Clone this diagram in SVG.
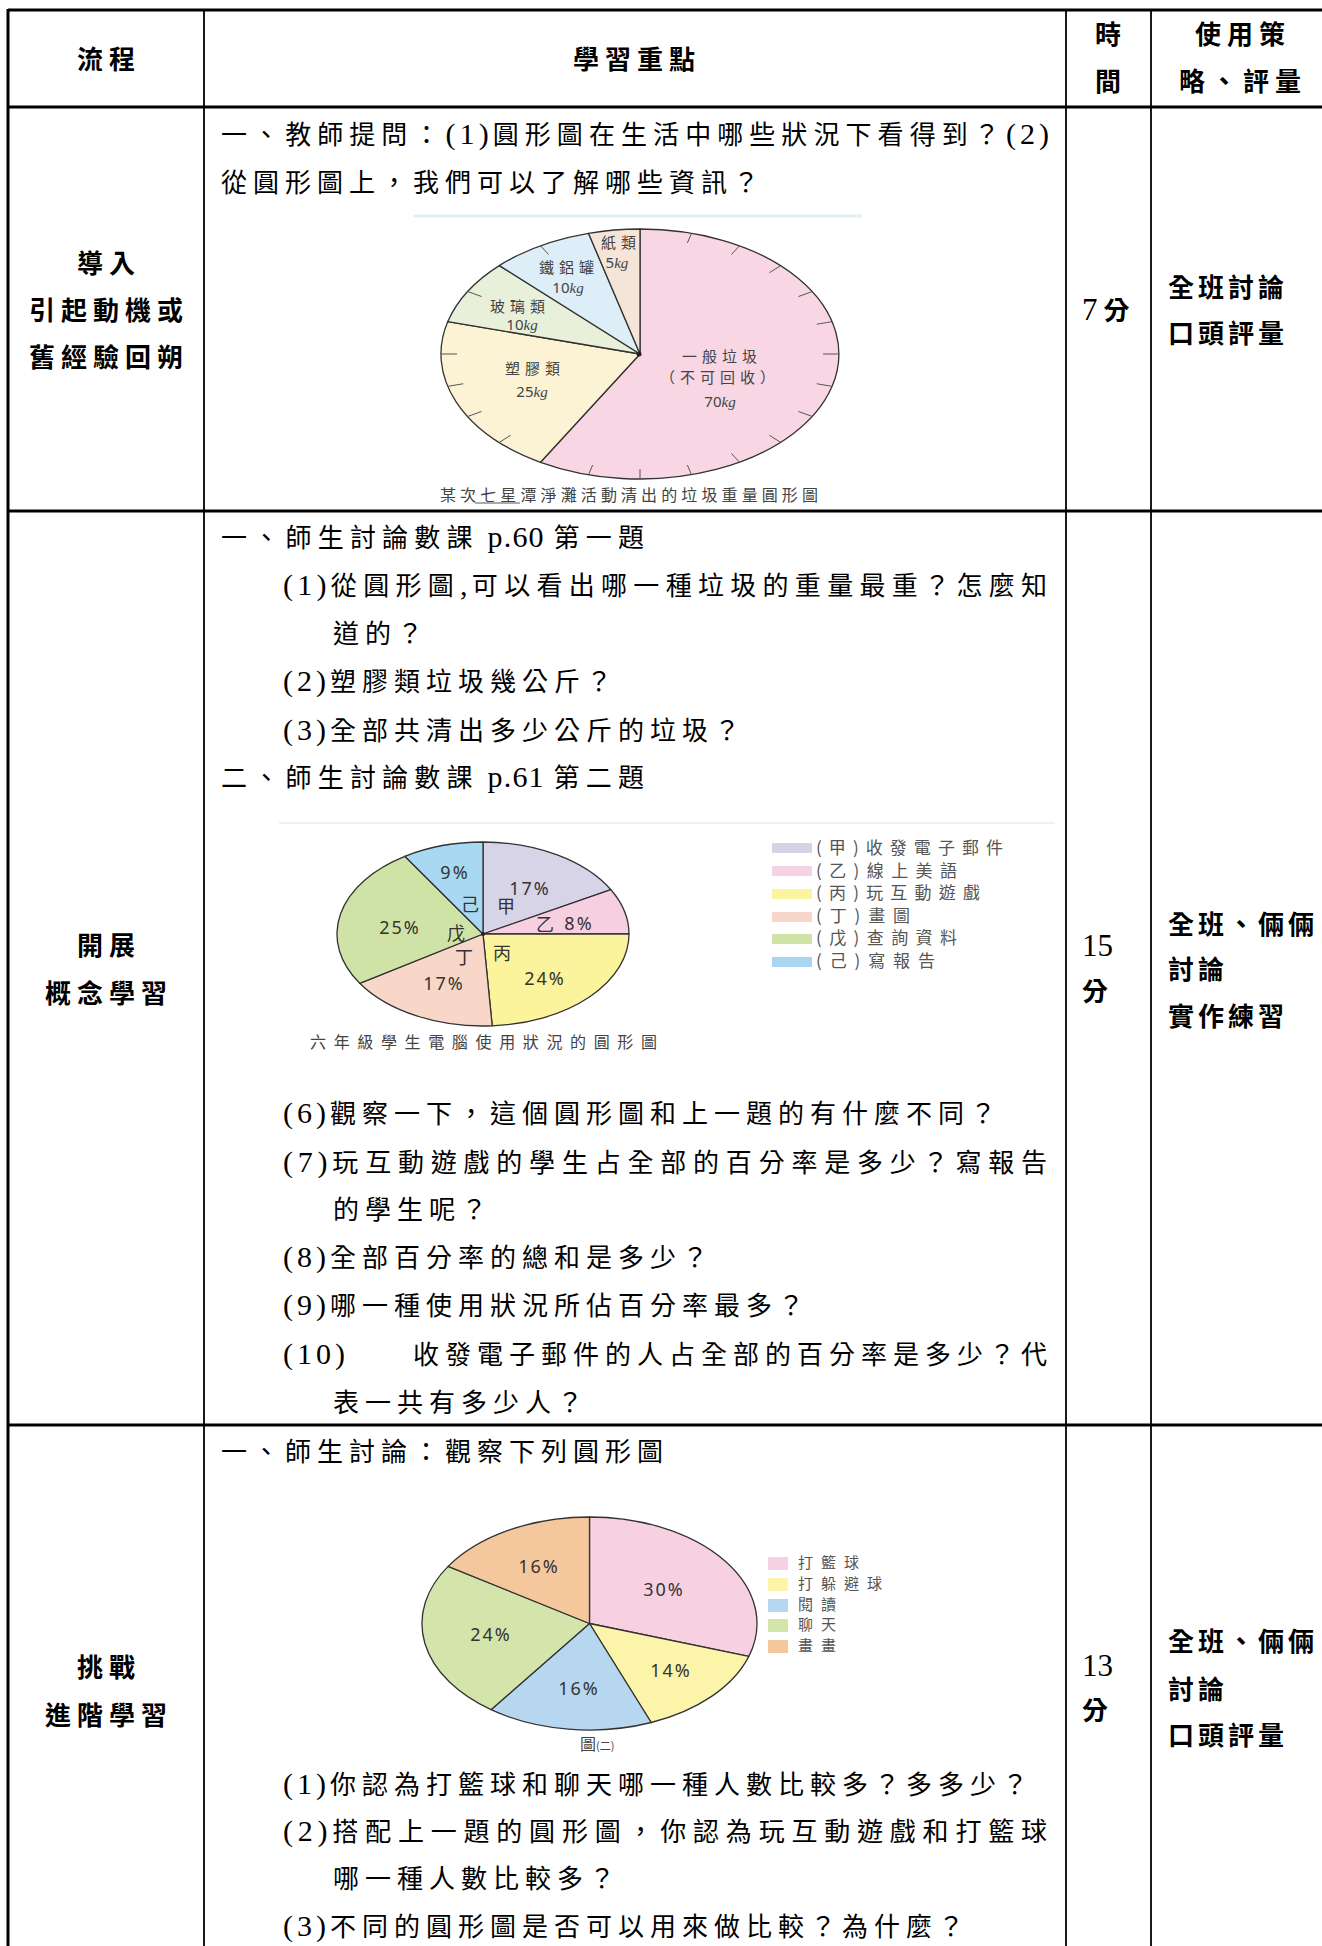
<svg xmlns="http://www.w3.org/2000/svg" width="1322" height="1946" viewBox="0 0 1322 1946">
<style>
.t{font-family:"Liberation Serif","Noto Sans CJK TC",serif;font-size:26px;letter-spacing:6px;fill:#000}
.l{font-size:30px;letter-spacing:4px}
.p{font-size:30px;letter-spacing:1px}
.d{font-size:31px;letter-spacing:0}
.b{font-weight:700}
.n{font-weight:400}
.c{text-anchor:middle}
.r{letter-spacing:4px}
.lbl{font-family:"Noto Sans CJK TC",sans-serif;font-size:15px;letter-spacing:5px;fill:#444}
.num{font-family:"Noto Sans","Noto Sans CJK TC",sans-serif;font-size:15px;fill:#444}
.kg{font-family:"Liberation Serif",serif;font-style:italic}
.pct{font-family:"Noto Sans",sans-serif;font-size:18px;letter-spacing:2px;fill:#333}
.ch{font-family:"Noto Sans CJK TC",sans-serif;font-size:18px;fill:#333}
.leg{font-family:"Noto Sans CJK TC",sans-serif;font-size:17px;fill:#555}
.leg3{font-family:"Noto Sans CJK TC",sans-serif;font-size:15px;letter-spacing:8px;fill:#555}
.cap{font-family:"Noto Sans CJK TC",sans-serif;font-size:16px;fill:#444}
.sl{stroke:#333;stroke-width:1.3;stroke-linejoin:round}
.tk{stroke:#555;stroke-width:1}
.thick{stroke:#000;stroke-width:3}
.thin{stroke:#000;stroke-width:1.8}
</style>
<rect width="1322" height="1946" fill="#fff"/>

<!-- table grid -->
<g id="grid">
<line class="thick" x1="8" y1="10" x2="1322" y2="10"/>
<line class="thick" x1="8" y1="107" x2="1322" y2="107"/>
<line class="thick" x1="8" y1="511" x2="1322" y2="511"/>
<line class="thick" x1="8" y1="1425" x2="1322" y2="1425"/>
<line class="thick" x1="8" y1="9" x2="8" y2="1946"/>
<line class="thin" x1="204" y1="10" x2="204" y2="1946"/>
<line class="thin" x1="1066" y1="10" x2="1066" y2="1946"/>
<line class="thin" x1="1151" y1="10" x2="1151" y2="1946"/>
</g>

<!-- header -->
<g id="header">
<text class="t b c" x="109" y="69">流程</text>
<text class="t b c" x="637" y="69">學習重點</text>
<text class="t b c" x="1111" y="44">時</text>
<text class="t b c" x="1111" y="91">間</text>
<text class="t b c" x="1243" y="44">使用策</text>
<text class="t b c" x="1243" y="91">略、評量</text>
</g>

<!-- row 1 -->
<g id="row1">
<text class="t b c" x="109" y="273">導入</text>
<text class="t b c" x="109" y="320">引起動機或</text>
<text class="t b c" x="109" y="367">舊經驗回朔</text>
<text class="t" x="221" y="144" textLength="832" lengthAdjust="spacing">一、教師提問：<tspan class="l">(1)</tspan>圓形圖在生活中哪些狀況下看得到？<tspan class="l">(2)</tspan></text>
<text class="t" x="221" y="192">從圓形圖上，我們可以了解哪些資訊？</text>
<text class="t b" x="1082" y="320"><tspan class="n d" style="letter-spacing:6px">7</tspan>分</text>
<text class="t b r" x="1168" y="297">全班討論</text>
<text class="t b r" x="1168" y="343">口頭評量</text>
</g>

<!-- pie 1 -->
<g id="pie1">
<line x1="413" y1="216" x2="862" y2="216" stroke="#e6eff6" stroke-width="3"/>
<path class="sl" fill="#f9d6e4" d="M640,354 L640,229 A199,125 0 1 1 540.5,462.3 Z"/>
<path class="sl" fill="#fcf2d4" d="M640,354 L540.5,462.3 A199,125 0 0 1 447.8,321.6 Z"/>
<path class="sl" fill="#e8f0da" d="M640,354 L447.8,321.6 A199,125 0 0 1 499.3,265.6 Z"/>
<path class="sl" fill="#ddeef8" d="M640,354 L499.3,265.6 A199,125 0 0 1 588.5,233.3 Z"/>
<path class="sl" fill="#f5e4d8" d="M640,354 L588.5,233.3 A199,125 0 0 1 640,229 Z"/>
<circle cx="639" cy="354" r="2.5" fill="#222"/>
<g transform="translate(640,354) scale(1,0.6281)">
<line class="tk" vector-effect="non-scaling-stroke" x1="0" y1="-199" x2="0" y2="-183" transform="rotate(15)"/>
<line class="tk" vector-effect="non-scaling-stroke" x1="0" y1="-199" x2="0" y2="-183" transform="rotate(30)"/>
<line class="tk" vector-effect="non-scaling-stroke" x1="0" y1="-199" x2="0" y2="-183" transform="rotate(45)"/>
<line class="tk" vector-effect="non-scaling-stroke" x1="0" y1="-199" x2="0" y2="-183" transform="rotate(60)"/>
<line class="tk" vector-effect="non-scaling-stroke" x1="0" y1="-199" x2="0" y2="-183" transform="rotate(75)"/>
<line class="tk" vector-effect="non-scaling-stroke" x1="0" y1="-199" x2="0" y2="-183" transform="rotate(90)"/>
<line class="tk" vector-effect="non-scaling-stroke" x1="0" y1="-199" x2="0" y2="-183" transform="rotate(105)"/>
<line class="tk" vector-effect="non-scaling-stroke" x1="0" y1="-199" x2="0" y2="-183" transform="rotate(120)"/>
<line class="tk" vector-effect="non-scaling-stroke" x1="0" y1="-199" x2="0" y2="-183" transform="rotate(135)"/>
<line class="tk" vector-effect="non-scaling-stroke" x1="0" y1="-199" x2="0" y2="-183" transform="rotate(150)"/>
<line class="tk" vector-effect="non-scaling-stroke" x1="0" y1="-199" x2="0" y2="-183" transform="rotate(165)"/>
<line class="tk" vector-effect="non-scaling-stroke" x1="0" y1="-199" x2="0" y2="-183" transform="rotate(180)"/>
<line class="tk" vector-effect="non-scaling-stroke" x1="0" y1="-199" x2="0" y2="-183" transform="rotate(195)"/>
<line class="tk" vector-effect="non-scaling-stroke" x1="0" y1="-199" x2="0" y2="-183" transform="rotate(225)"/>
<line class="tk" vector-effect="non-scaling-stroke" x1="0" y1="-199" x2="0" y2="-183" transform="rotate(240)"/>
<line class="tk" vector-effect="non-scaling-stroke" x1="0" y1="-199" x2="0" y2="-183" transform="rotate(255)"/>
<line class="tk" vector-effect="non-scaling-stroke" x1="0" y1="-199" x2="0" y2="-183" transform="rotate(270)"/>
<line class="tk" vector-effect="non-scaling-stroke" x1="0" y1="-199" x2="0" y2="-183" transform="rotate(300)"/>
<line class="tk" vector-effect="non-scaling-stroke" x1="0" y1="-199" x2="0" y2="-183" transform="rotate(330)"/>
</g>
<text class="lbl c" x="621" y="248">紙類</text>
<text class="num c" x="617" y="268">5<tspan class="kg">kg</tspan></text>
<text class="lbl c" x="569" y="273">鐵鋁罐</text>
<text class="num c" x="568" y="293">10<tspan class="kg">kg</tspan></text>
<text class="lbl c" x="520" y="312">玻璃類</text>
<text class="num c" x="522" y="330">10<tspan class="kg">kg</tspan></text>
<text class="lbl c" x="535" y="374">塑膠類</text>
<text class="num c" x="532" y="397">25<tspan class="kg">kg</tspan></text>
<text class="lbl c" x="722" y="362">一般垃圾</text>
<text class="lbl c" x="720" y="383">（不可回收）</text>
<text class="num c" x="720" y="407">70<tspan class="kg">kg</tspan></text>
<text class="cap" x="440" y="501" textLength="378" lengthAdjust="spacing">某次七星潭淨灘活動清出的垃圾重量圓形圖</text>
<line x1="475" y1="503" x2="520" y2="503" stroke="#555" stroke-width="1"/>
</g>

<!-- row 2 -->
<g id="row2">
<text class="t b c" x="109" y="955">開展</text>
<text class="t b c" x="109" y="1003">概念學習</text>
<text class="t" x="221" y="547" textLength="429" lengthAdjust="spacing">一、師生討論數課<tspan class="p"> p.60 </tspan>第一題</text>
<text class="t" x="283" y="595" textLength="770" lengthAdjust="spacing"><tspan class="l">(1)</tspan>從圓形圖<tspan class="l">,</tspan>可以看出哪一種垃圾的重量最重？怎麼知</text>
<text class="t" x="333" y="643">道的？</text>
<text class="t" x="283" y="691"><tspan class="l">(2)</tspan>塑膠類垃圾幾公斤？</text>
<text class="t" x="283" y="740"><tspan class="l">(3)</tspan>全部共清出多少公斤的垃圾？</text>
<text class="t" x="221" y="787" textLength="429" lengthAdjust="spacing">二、師生討論數課<tspan class="p"> p.61 </tspan>第二題</text>
<text class="t" x="283" y="1123"><tspan class="l">(6)</tspan>觀察一下，這個圓形圖和上一題的有什麼不同？</text>
<text class="t" x="283" y="1172" textLength="770" lengthAdjust="spacing"><tspan class="l">(7)</tspan>玩互動遊戲的學生占全部的百分率是多少？寫報告</text>
<text class="t" x="333" y="1219">的學生呢？</text>
<text class="t" x="283" y="1267"><tspan class="l">(8)</tspan>全部百分率的總和是多少？</text>
<text class="t" x="283" y="1315"><tspan class="l">(9)</tspan>哪一種使用狀況所佔百分率最多？</text>
<text class="t l" x="283" y="1364">(10)</text>
<text class="t" x="413" y="1364" textLength="640" lengthAdjust="spacing">收發電子郵件的人占全部的百分率是多少？代</text>
<text class="t" x="333" y="1412">表一共有多少人？</text>
<text class="t n d" x="1082" y="956">15</text>
<text class="t b" x="1082" y="1001">分</text>
<text class="t b r" x="1168" y="934">全班、倆倆</text>
<text class="t b r" x="1168" y="979">討論</text>
<text class="t b r" x="1168" y="1026">實作練習</text>
</g>

<!-- pie 2 -->
<g id="pie2">
<line x1="279" y1="823" x2="1055" y2="823" stroke="#eef1f3" stroke-width="2"/>
<path class="sl" fill="#d8d4e8" d="M483,934 L483,842 A146,92 0 0 1 610.9,889.7 Z"/>
<path class="sl" fill="#f6d0e1" d="M483,934 L610.9,889.7 A146,92 0 0 1 629,934 Z"/>
<path class="sl" fill="#fcf49c" d="M483,934 L629,934 A146,92 0 0 1 492.2,1025.8 Z"/>
<path class="sl" fill="#f8d7c8" d="M483,934 L492.2,1025.8 A146,92 0 0 1 359.7,983.3 Z"/>
<path class="sl" fill="#cfe3a6" d="M483,934 L359.7,983.3 A146,92 0 0 1 404.8,856.3 Z"/>
<path class="sl" fill="#a8d8f2" d="M483,934 L404.8,856.3 A146,92 0 0 1 483,842 Z"/>
<circle cx="483" cy="934" r="2" fill="#222"/>
<text class="pct c" x="455" y="879">9%</text>
<text class="pct c" x="530" y="895">17%</text>
<text class="ch c" x="470" y="911">己</text>
<text class="ch c" x="506" y="913">甲</text>
<text class="ch c" x="545" y="931">乙</text>
<text class="pct c" x="579" y="930">8%</text>
<text class="pct c" x="400" y="934">25%</text>
<text class="ch c" x="456" y="940">戊</text>
<text class="ch c" x="464" y="964">丁</text>
<text class="ch c" x="502" y="960">丙</text>
<text class="pct c" x="545" y="985">24%</text>
<text class="pct c" x="444" y="990">17%</text>
<text class="cap" x="310" y="1048" font-size="17" textLength="347" lengthAdjust="spacing">六年級學生電腦使用狀況的圓形圖</text>
<rect x="772" y="843" width="40" height="10" fill="#d6d3e6"/>
<rect x="772" y="866" width="40" height="10" fill="#f6d3e3"/>
<rect x="772" y="889" width="40" height="10" fill="#fcf5a0"/>
<rect x="772" y="912" width="40" height="10" fill="#f7d6cb"/>
<rect x="772" y="934" width="40" height="10" fill="#d0e3a6"/>
<rect x="772" y="957" width="40" height="10" fill="#aad6f2"/>
<text class="leg" x="816" y="854" textLength="187" lengthAdjust="spacing">(甲)收發電子郵件</text>
<text class="leg" x="816" y="877" textLength="141" lengthAdjust="spacing">(乙)線上美語</text>
<text class="leg" x="816" y="899" textLength="164" lengthAdjust="spacing">(丙)玩互動遊戲</text>
<text class="leg" x="816" y="922" textLength="94" lengthAdjust="spacing">(丁)畫圖</text>
<text class="leg" x="816" y="944" textLength="141" lengthAdjust="spacing">(戊)查詢資料</text>
<text class="leg" x="816" y="967" textLength="119" lengthAdjust="spacing">(己)寫報告</text>
</g>

<!-- row 3 -->
<g id="row3">
<text class="t b c" x="109" y="1677">挑戰</text>
<text class="t b c" x="109" y="1725">進階學習</text>
<text class="t" x="221" y="1461">一、師生討論：觀察下列圓形圖</text>
<text class="t" x="283" y="1794"><tspan class="l">(1)</tspan>你認為打籃球和聊天哪一種人數比較多？多多少？</text>
<text class="t" x="283" y="1841" textLength="770" lengthAdjust="spacing"><tspan class="l">(2)</tspan>搭配上一題的圓形圖，你認為玩互動遊戲和打籃球</text>
<text class="t" x="333" y="1888">哪一種人數比較多？</text>
<text class="t" x="283" y="1936"><tspan class="l">(3)</tspan>不同的圓形圖是否可以用來做比較？為什麼？</text>
<text class="t n d" x="1082" y="1676">13</text>
<text class="t b" x="1082" y="1720">分</text>
<text class="t b r" x="1168" y="1651">全班、倆倆</text>
<text class="t b r" x="1168" y="1699">討論</text>
<text class="t b r" x="1168" y="1745">口頭評量</text>
</g>

<!-- pie 3 -->
<g id="pie3">
<path class="sl" stroke-width="1.8" fill="#f7d0e2" d="M589.5,1623.5 L589.5,1517 A167.5,106.5 0 0 1 748.8,1656.4 Z"/>
<path class="sl" stroke-width="1.8" fill="#fcf4a9" d="M589.5,1623.5 L748.8,1656.4 A167.5,106.5 0 0 1 651.2,1722.5 Z"/>
<path class="sl" stroke-width="1.8" fill="#b7d6ef" d="M589.5,1623.5 L651.2,1722.5 A167.5,106.5 0 0 1 491,1709.7 Z"/>
<path class="sl" stroke-width="1.8" fill="#d4e5ab" d="M589.5,1623.5 L491,1709.7 A167.5,106.5 0 0 1 448.1,1566.4 Z"/>
<path class="sl" stroke-width="1.8" fill="#f5c79d" d="M589.5,1623.5 L448.1,1566.4 A167.5,106.5 0 0 1 589.5,1517 Z"/>
<text class="pct c" x="539" y="1573">16%</text>
<text class="pct c" x="664" y="1596">30%</text>
<text class="pct c" x="491" y="1641">24%</text>
<text class="pct c" x="671" y="1677">14%</text>
<text class="pct c" x="579" y="1695">16%</text>
<text class="cap" x="580" y="1750" font-size="14" fill="#555">圖<tspan font-size="11">(二)</tspan></text>
<rect x="768" y="1557" width="20" height="13" fill="#f7d0e2"/>
<rect x="768" y="1578" width="20" height="13" fill="#fcf4a9"/>
<rect x="768" y="1599" width="20" height="13" fill="#b7d6ef"/>
<rect x="768" y="1619" width="20" height="13" fill="#d4e5ab"/>
<rect x="768" y="1640" width="20" height="13" fill="#f5c79d"/>
<text class="leg3" x="798" y="1568">打籃球</text>
<text class="leg3" x="798" y="1589">打躲避球</text>
<text class="leg3" x="798" y="1610">閱讀</text>
<text class="leg3" x="798" y="1630">聊天</text>
<text class="leg3" x="798" y="1651">畫畫</text>
</g>
</svg>
